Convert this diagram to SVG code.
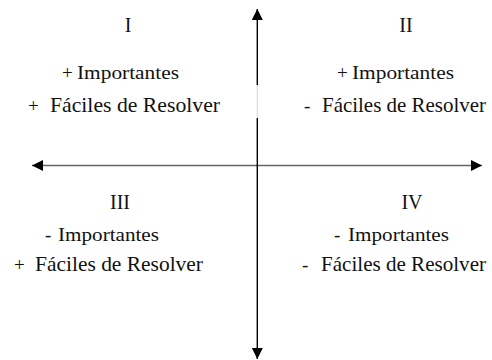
<svg xmlns="http://www.w3.org/2000/svg" width="492" height="360" viewBox="0 0 492 360">
<style>
text{font-family:"Liberation Serif","Times New Roman","DejaVu Serif",serif;fill:#111}
.num{font-size:20px;text-anchor:middle}
.imp{font-size:19px}
.fac{font-size:21px}
.sg{font-size:19px}
</style>
<defs>
<marker id="ah" markerUnits="userSpaceOnUse" markerWidth="12" markerHeight="12" refX="11" refY="5.5" orient="auto">
<path d="M0,0 L11,5.5 L0,11 Z" fill="#000"/>
</marker>
</defs>
<rect width="492" height="360" fill="#fff"/>
<g id="connectors">
<line x1="257" y1="165.5" x2="32" y2="165.5" stroke="#666" stroke-width="1.6" marker-end="url(#ah)"/>
<line x1="257" y1="165.5" x2="482" y2="165.5" stroke="#666" stroke-width="1.6" marker-end="url(#ah)"/>
<line x1="257.3" y1="85" x2="257.3" y2="9" stroke="#000" stroke-width="1.4" marker-end="url(#ah)"/>
<line x1="257.3" y1="85" x2="257.3" y2="118" stroke="#d4d4d4" stroke-width="1"/>
<line x1="257.3" y1="118" x2="257.3" y2="359" stroke="#000" stroke-width="1.4" marker-end="url(#ah)"/>
</g>
<g id="q1">
<text class="num" x="128" y="32">I</text>
<text class="sg" x="62" y="79">+</text>
<text class="imp" x="77" y="79" textLength="102" lengthAdjust="spacingAndGlyphs">Importantes</text>
<text class="sg" x="28" y="112">+</text>
<text class="fac" x="50" y="112" textLength="170" lengthAdjust="spacingAndGlyphs">Fáciles de Resolver</text>
</g>
<g id="q2">
<text class="num" x="406" y="32">II</text>
<text class="sg" x="337" y="79">+</text>
<text class="imp" x="352" y="79" textLength="102" lengthAdjust="spacingAndGlyphs">Importantes</text>
<text class="sg" x="304" y="112">-</text>
<text class="fac" x="322" y="112" textLength="164" lengthAdjust="spacingAndGlyphs">Fáciles de Resolver</text>
</g>
<g id="q3">
<text class="num" x="120" y="209">III</text>
<text class="sg" x="45" y="241">-</text>
<text class="imp" x="58" y="241" textLength="101" lengthAdjust="spacingAndGlyphs">Importantes</text>
<text class="sg" x="14" y="271">+</text>
<text class="fac" x="35" y="271" textLength="168" lengthAdjust="spacingAndGlyphs">Fáciles de Resolver</text>
</g>
<g id="q4">
<text class="num" x="412" y="209">IV</text>
<text class="sg" x="334" y="241">-</text>
<text class="imp" x="348" y="241" textLength="101" lengthAdjust="spacingAndGlyphs">Importantes</text>
<text class="sg" x="302" y="271">-</text>
<text class="fac" x="321" y="271" textLength="165" lengthAdjust="spacingAndGlyphs">Fáciles de Resolver</text>
</g>
</svg>
